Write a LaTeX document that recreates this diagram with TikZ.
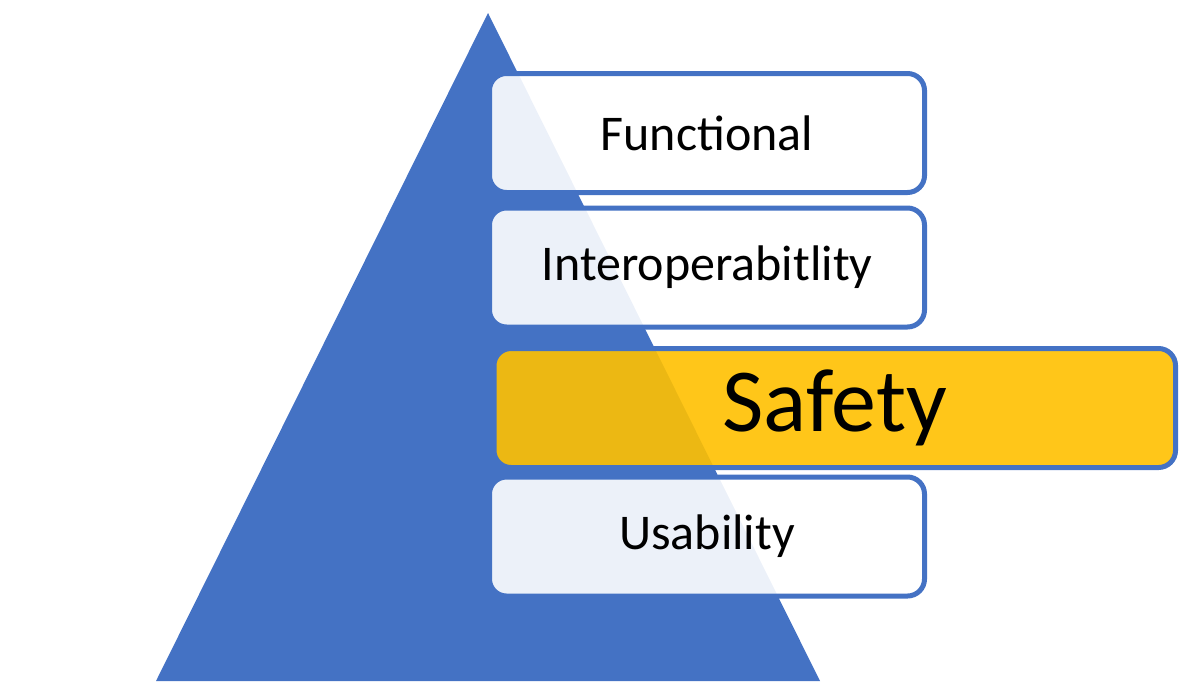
\documentclass[tikz,border=0pt]{standalone}
\usepackage{fontspec}
\setmainfont{Carlito}
\definecolor{pyrblue}{RGB}{68,114,196}
\definecolor{pyrgold}{RGB}{255,192,0}

\begin{document}
\begin{tikzpicture}[x=1pt,y=-1pt,
  layer/.style={draw=pyrblue, line width=5pt, rounded corners=17pt,
    fill=white, fill opacity=0.9, text opacity=1, inner sep=0pt,
    minimum width=435pt, minimum height=119pt,
    font=\fontsize{50}{60}\selectfont},
  toplayer/.style={layer, fill=pyrgold, minimum width=681.5pt,
    font=\fontsize{90}{100}\selectfont}]
\useasboundingbox (0,0) rectangle (1198,681);
\coordinate (apex) at (488,13);
% Draw pyramid
\fill[pyrblue] (apex) -- (156,681) -- (820,681) -- cycle;
% Draw layers
\node[layer] (functional) at (707,133) {Functional};
\node[layer] (interop) at (707,267.5) {Interoperabitlity};
\node[toplayer] (safety) at (834.75,408) {Safety};
\node[layer] (usability) at (707,536.5) {Usability};
\end{tikzpicture}
\end{document}
